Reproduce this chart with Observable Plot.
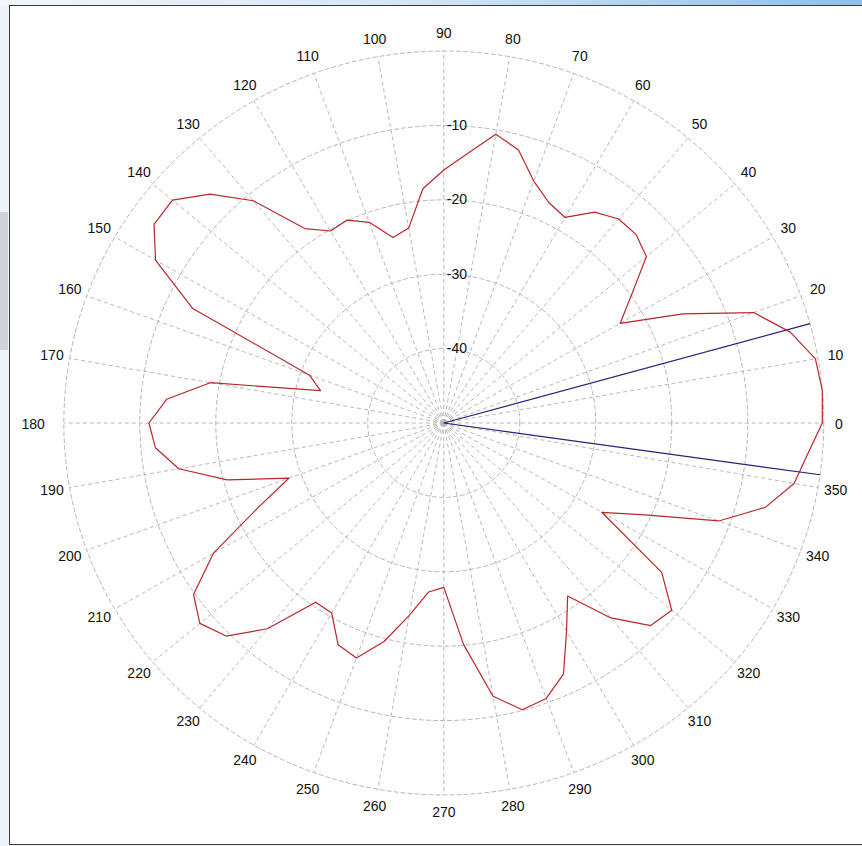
<!DOCTYPE html>
<html><head><meta charset="utf-8">
<script src="https://cdn.jsdelivr.net/npm/d3@7"></script>
<script src="https://cdn.jsdelivr.net/npm/@observablehq/plot@0.6"></script>
<style>
html,body{margin:0;padding:0;width:862px;height:846px;overflow:hidden;background:#eef3fa;}
#strip{position:absolute;left:0;top:0;width:862px;height:5px;background:linear-gradient(to right,#f2f6fb,#d2e4f5 50%,#8cc0ea);}
#tab{position:absolute;left:0;top:212px;width:8px;height:138px;background:#cfd3d8;}
#panel{position:absolute;left:9px;top:5px;width:860px;height:838px;background:#fff;border-left:1px solid #3c3c3c;border-top:1px solid #3c3c3c;border-bottom:1px solid #3c3c3c;}
#chart{position:absolute;left:0;top:0;}
</style></head>
<body>
<div id="strip"></div><div id="tab"></div><div id="panel"></div>
<div id="chart"></div>
<script>
// Pattern data (angle in degrees, level in dB)
const angles = [0,5,10,15,20,25,30,35,40,45,50,55,60,65,70,75,80,85,90,95,100,105,110,115,120,125,130,135,140,145,150,155,160,165,170,175,180,185,190,195,200,205,210,215,220,225,230,235,240,245,250,255,260,265,270,275,280,285,290,295,300,305,310,315,320,325,330,335,340,345,350,355];
const levels = [-0.2,0.0,-0.35,-2.8,-6.6,-15.3,-23.2,-19.8,-15.2,-14.2,-14.2,-15.4,-18.1,-17.3,-15.4,-12.0,-10.6,-13.6,-16.0,-18.4,-23.4,-24.2,-21.3,-19.9,-20.2,-18.1,-11.0,-6.5,-3.4,-3.45,-6.2,-13.5,-31.2,-33.2,-18.8,-13.4,-11.2,-11.9,-14.6,-20.5,-28.3,-23.0,-15.0,-9.8,-8.1,-9.5,-13.9,-20.6,-20.5,-17.1,-16.4,-19.6,-23.7,-27.2,-27.9,-20.1,-12.7,-10.1,-10.6,-12.75,-17.7,-21.6,-15.8,-11.5,-10.85,-15.0,-26.0,-20.8,-11.5,-6.2,-3.2,-1.95];
const beamEdges = [15.5, 352];
const angleTicks = [0,10,20,30,40,50,60,70,80,90,100,110,120,130,140,150,160,170,180,190,200,210,220,230,240,250,260,270,280,290,300,310,320,330,340,350];
const ringTicks = [0,-10,-20,-30,-40];
const ringLabels = [-10,-20,-30,-40];
const minDb = -50, maxDb = 0;

const rad = d => d*Math.PI/180;
const rn = db => (db - minDb)/(maxDb - minDb);

const pattern = angles.map((a,i)=>({a, db: levels[i]}));
pattern.push(pattern[0]);

const ringPts = [];
for (const t of ringTicks) for (let a=0;a<=360;a+=2) ringPts.push({t, a});
const spokes = angleTicks.map(a=>({a}));
const sideTicks = angleTicks.filter(a => a % 180 === 0);
const otherTicks = angleTicks.filter(a => a % 180 !== 0);

const cx=443.3, cy=422.5, RX=380, RY=372;
const font = "'Liberation Sans', Arial, sans-serif";

const chart = Plot.plot({
  width: 862, height: 846, margin: 0,
  x: {domain:[-1,1], range:[cx-RX, cx+RX], axis:null},
  y: {domain:[-1,1], range:[cy+RY, cy-RY], axis:null},
  style: {background:"transparent", fontFamily: font, fontSize:"14px", color:"#111"},
  marks: [
    Plot.line(ringPts, {x: d=>rn(d.t)*Math.cos(rad(d.a)), y: d=>rn(d.t)*Math.sin(rad(d.a)), z:"t", stroke:"#b8b8b8", strokeWidth:1, strokeDasharray:"4,3"}),
    Plot.link(spokes, {x1:0, y1:0, x2:d=>Math.cos(rad(d.a)), y2:d=>Math.sin(rad(d.a)), stroke:"#b8b8b8", strokeWidth:1, strokeDasharray:"4,3"}),
    Plot.text(ringLabels, {x:0, y:d=>rn(d), text:d=>String(d), textAnchor:"start", dx:3, fontSize:14, fill:"#111"}),
    Plot.text(otherTicks, {x:d=>1.047*Math.cos(rad(d)), y:d=>1.048*Math.sin(rad(d)), text:d=>String(d), textAnchor:"middle", fontSize:14, fill:"#111"}),
    Plot.text(sideTicks, {x:d=>1.05*Math.cos(rad(d)), y:0, text:d=>String(d), textAnchor:"end", dy:2, fontSize:14, fill:"#111"}),
    Plot.link(beamEdges, {x1:0, y1:0, x2:d=>Math.cos(rad(d)), y2:d=>Math.sin(rad(d)), stroke:"#23237a", strokeWidth:1.2}),
    Plot.line(pattern, {x:d=>rn(d.db)*Math.cos(rad(d.a)), y:d=>rn(d.db)*Math.sin(rad(d.a)), stroke:"#b8282a", strokeWidth:1.2, curve:"linear"})
  ]
});
document.getElementById("chart").appendChild(chart);
</script>
</body></html>
